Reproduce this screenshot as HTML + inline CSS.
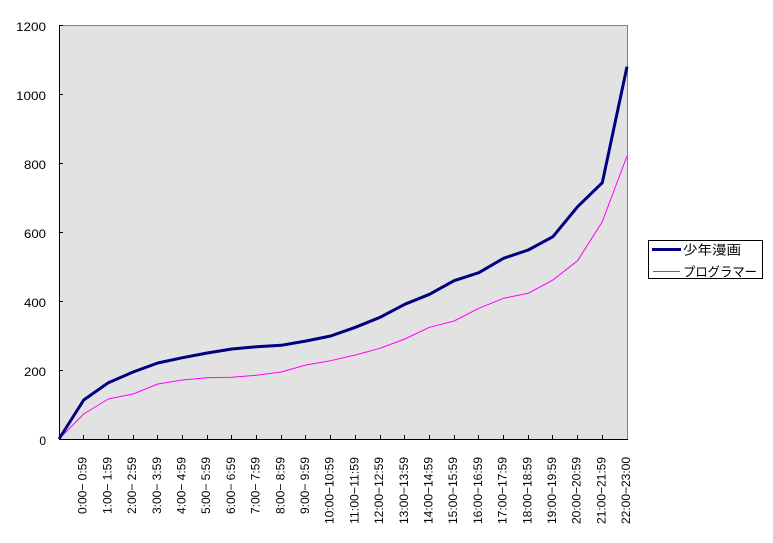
<!DOCTYPE html>
<html>
<head>
<meta charset="utf-8">
<style>
html,body{margin:0;padding:0;background:#fff;}
svg{display:block;}
text{font-family:"Liberation Sans","Noto Sans CJK JP",sans-serif;fill:#000;}
</style>
</head>
<body>
<svg width="773" height="543" viewBox="0 0 773 543" xmlns="http://www.w3.org/2000/svg">
<rect x="0" y="0" width="773" height="543" fill="#fff"/>
<!-- plot area -->
<rect x="59" y="25" width="568" height="414" fill="#e2e2e2"/>
<g shape-rendering="crispEdges">
<line x1="59" y1="25.5" x2="627.5" y2="25.5" stroke="#808080" stroke-width="1"/>
<line x1="627.5" y1="25" x2="627.5" y2="439.5" stroke="#808080" stroke-width="1"/>
<line x1="59.5" y1="25" x2="59.5" y2="440" stroke="#000" stroke-width="1"/>
<line x1="59" y1="439.5" x2="628" y2="439.5" stroke="#000" stroke-width="1"/>
<!-- y ticks -->
<path d="M59 25.5h4M59 94.5h4M59 163.5h4M59 232.5h4M59 301.5h4M59 370.5h4" stroke="#000" stroke-width="1"/>
<!-- x ticks -->
<path d="M83.5 435v4M108.5 435v4M133.5 435v4M157.5 435v4M182.5 435v4M207.5 435v4M231.5 435v4M256.5 435v4M281.5 435v4M305.5 435v4M330.5 435v4M355.5 435v4M380.5 435v4M404.5 435v4M429.5 435v4M454.5 435v4M478.5 435v4M503.5 435v4M528.5 435v4M552.5 435v4M577.5 435v4M602.5 435v4" stroke="#000" stroke-width="1"/>
</g>
<!-- y labels -->
<g font-size="12" text-anchor="end">
<text x="46" y="31" textLength="30" lengthAdjust="spacingAndGlyphs">1200</text>
<text x="46" y="100" textLength="30" lengthAdjust="spacingAndGlyphs">1000</text>
<text x="46" y="169" textLength="22" lengthAdjust="spacingAndGlyphs">800</text>
<text x="46" y="238" textLength="22" lengthAdjust="spacingAndGlyphs">600</text>
<text x="46" y="307" textLength="22" lengthAdjust="spacingAndGlyphs">400</text>
<text x="46" y="376" textLength="22" lengthAdjust="spacingAndGlyphs">200</text>
<text x="46" y="445">0</text>
</g>
<!-- series -->
<polyline fill="none" stroke="#ff00ff" stroke-width="1" stroke-linejoin="round"
points="59,439 83.70,414 108.39,399 133.09,394 157.78,384 182.48,380 207.17,377.7 231.87,377.3 256.57,375.3 281.26,372 305.96,365 330.65,360.7 355.35,355 380.04,348.3 404.74,339 429.43,327.3 454.13,321 478.83,308.3 503.52,298.3 528.22,293.3 552.91,280 577.61,260.7 602.30,221.7 627,156"/>
<polyline fill="none" stroke="#000080" stroke-width="3" stroke-linejoin="round"
points="59,439 83.70,400 108.39,382.7 133.09,372 157.78,363 182.48,357.7 207.17,353 231.87,349 256.57,346.7 281.26,345.3 305.96,341 330.65,336 355.35,327.3 380.04,317.3 404.74,304.3 429.43,294.3 454.13,280.7 478.83,272.7 503.52,258.3 528.22,250 552.91,236.7 577.61,206.7 602.30,182.7 627,66.7"/>
<!-- x labels -->
<g font-size="12" text-anchor="end">
<text transform="translate(86.7,457) rotate(-90)" textLength="57" lengthAdjust="spacingAndGlyphs">0:00−&#160;0:59</text>
<text transform="translate(111.4,457) rotate(-90)" textLength="57" lengthAdjust="spacingAndGlyphs">1:00−&#160;1:59</text>
<text transform="translate(136.1,457) rotate(-90)" textLength="57" lengthAdjust="spacingAndGlyphs">2:00−&#160;2:59</text>
<text transform="translate(160.8,457) rotate(-90)" textLength="57" lengthAdjust="spacingAndGlyphs">3:00−&#160;3:59</text>
<text transform="translate(185.5,457) rotate(-90)" textLength="57" lengthAdjust="spacingAndGlyphs">4:00−&#160;4:59</text>
<text transform="translate(210.2,457) rotate(-90)" textLength="57" lengthAdjust="spacingAndGlyphs">5:00−&#160;5:59</text>
<text transform="translate(234.9,457) rotate(-90)" textLength="57" lengthAdjust="spacingAndGlyphs">6:00−&#160;6:59</text>
<text transform="translate(259.6,457) rotate(-90)" textLength="57" lengthAdjust="spacingAndGlyphs">7:00−&#160;7:59</text>
<text transform="translate(284.3,457) rotate(-90)" textLength="57" lengthAdjust="spacingAndGlyphs">8:00−&#160;8:59</text>
<text transform="translate(309.0,457) rotate(-90)" textLength="57" lengthAdjust="spacingAndGlyphs">9:00−&#160;9:59</text>
<text transform="translate(333.7,457) rotate(-90)" textLength="67" lengthAdjust="spacingAndGlyphs">10:00−10:59</text>
<text transform="translate(358.4,457) rotate(-90)" textLength="67" lengthAdjust="spacingAndGlyphs">11:00−11:59</text>
<text transform="translate(383.1,457) rotate(-90)" textLength="67" lengthAdjust="spacingAndGlyphs">12:00−12:59</text>
<text transform="translate(407.8,457) rotate(-90)" textLength="67" lengthAdjust="spacingAndGlyphs">13:00−13:59</text>
<text transform="translate(432.5,457) rotate(-90)" textLength="67" lengthAdjust="spacingAndGlyphs">14:00−14:59</text>
<text transform="translate(457.2,457) rotate(-90)" textLength="67" lengthAdjust="spacingAndGlyphs">15:00−15:59</text>
<text transform="translate(481.9,457) rotate(-90)" textLength="67" lengthAdjust="spacingAndGlyphs">16:00−16:59</text>
<text transform="translate(506.6,457) rotate(-90)" textLength="67" lengthAdjust="spacingAndGlyphs">17:00−17:59</text>
<text transform="translate(531.3,457) rotate(-90)" textLength="67" lengthAdjust="spacingAndGlyphs">18:00−18:59</text>
<text transform="translate(556.0,457) rotate(-90)" textLength="67" lengthAdjust="spacingAndGlyphs">19:00−19:59</text>
<text transform="translate(580.7,457) rotate(-90)" textLength="67" lengthAdjust="spacingAndGlyphs">20:00−20:59</text>
<text transform="translate(605.4,457) rotate(-90)" textLength="67" lengthAdjust="spacingAndGlyphs">21:00−21:59</text>
<text transform="translate(630.1,457) rotate(-90)" textLength="67" lengthAdjust="spacingAndGlyphs">22:00−23:00</text>
</g>
<!-- legend -->
<rect x="648.5" y="240.5" width="114" height="38" fill="#fff" stroke="#000" stroke-width="1" shape-rendering="crispEdges"/>
<line x1="652" y1="249.5" x2="681" y2="249.5" stroke="#000080" stroke-width="3"/>
<line x1="653" y1="271.5" x2="680" y2="271.5" stroke="#ff00ff" stroke-width="1"/>
<text x="683" y="254.5" font-size="13" textLength="58" lengthAdjust="spacingAndGlyphs">少年漫画</text>
<text x="683" y="276.5" font-size="13" textLength="74" lengthAdjust="spacingAndGlyphs">プログラマー</text>
</svg>
</body>
</html>
